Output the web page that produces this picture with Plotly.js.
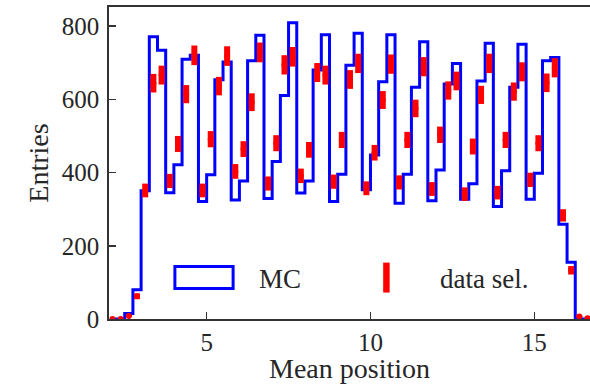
<!DOCTYPE html>
<html>
<head>
<meta charset="utf-8">
<script src="https://cdn.plot.ly/plotly-3.0.1.min.js"></script>
<style>html,body{margin:0;padding:0;background:#fff;}#chart{width:590px;height:384px;}</style>
</head>
<body>
<div id="chart"></div>
<script>
// Bin centres (bin width 0.25) of "Mean position"
const binCenters = [2.125, 2.375, 2.625, 2.875, 3.125, 3.375, 3.625, 3.875, 4.125, 4.375,
  4.625, 4.875, 5.125, 5.375, 5.625, 5.875, 6.125, 6.375, 6.625, 6.875,
  7.125, 7.375, 7.625, 7.875, 8.125, 8.375, 8.625, 8.875, 9.125, 9.375,
  9.625, 9.875, 10.125, 10.375, 10.625, 10.875, 11.125, 11.375, 11.625, 11.875,
  12.125, 12.375, 12.625, 12.875, 13.125, 13.375, 13.625, 13.875, 14.125, 14.375,
  14.625, 14.875, 15.125, 15.375, 15.625, 15.875, 16.125, 16.375, 16.625];

// MC histogram entries per bin
const mcEntries = [0, 0, 15, 80, 350, 771, 734, 345, 421, 709,
  720, 321, 394, 653, 702, 325, 377, 705, 775, 329,
  430, 610, 809, 344, 377, 680, 776, 321, 395, 693,
  780, 353, 448, 648, 776, 316, 395, 633, 757, 323,
  407, 642, 698, 327, 369, 650, 753, 307, 405, 633,
  750, 327, 398, 705, 714, 259, 155, 0, 0];

// Selected data entries per bin
const dataEntries = [0, 0, 8, 62, 351, 644, 666, 377, 478, 614,
  720, 351, 491, 636, 718, 403, 464, 592, 728, 370,
  480, 694, 716, 391, 462, 673, 666, 375, 489, 654,
  698, 357, 454, 598, 696, 373, 489, 575, 689, 355,
  503, 624, 650, 341, 471, 612, 698, 345, 489, 621,
  675, 380, 480, 645, 686, 283, 133, 7, 2];

const xTicks = [5, 10, 15];
const yTicks = [0, 200, 400, 600, 800];
const legendLabels = ["MC", "data sel."];

const textColor = "#262626";
const axisColor = "#333333";
const serif = "Liberation Serif";

const traces = [
  {
    type: "scatter", mode: "lines", name: legendLabels[0],
    x: binCenters, y: mcEntries,
    line: {shape: "hvh", color: "#0000ff", width: 3},
    showlegend: false, hoverinfo: "skip"
  },
  {
    type: "scatter", mode: "markers", name: legendLabels[1],
    x: binCenters, y: dataEntries,
    marker: {color: "#ff0000", size: 6, symbol: "circle"},
    error_y: {type: "sqrt", visible: true, color: "#ff0000", thickness: 6, width: 0},
    showlegend: false, hoverinfo: "skip"
  }
];

const layout = {
  width: 590, height: 384,
  margin: {l: 109, r: 0, t: 7, b: 64.5},
  paper_bgcolor: "#ffffff", plot_bgcolor: "#ffffff",
  showlegend: false,
  font: {family: serif, color: textColor, size: 25},
  xaxis: {
    range: [2.02, 16.70],
    tickvals: xTicks, ticktext: xTicks.map(String),
    ticks: "inside", ticklen: 7, tickwidth: 1.5, tickcolor: axisColor,
    showline: true, linecolor: axisColor, linewidth: 1.8, mirror: true,
    showgrid: false, zeroline: false,
    tickfont: {family: serif, size: 25, color: textColor},
    title: {text: "Mean position", font: {family: serif, size: 28, color: textColor}, standoff: 8}
  },
  yaxis: {
    range: [0, 852],
    tickvals: yTicks, ticktext: yTicks.map(String),
    ticks: "inside", ticklen: 7, tickwidth: 1.5, tickcolor: axisColor,
    showline: true, linecolor: axisColor, linewidth: 1.8, mirror: false,
    showgrid: false, zeroline: false,
    ticklabelstandoff: 3,
    tickfont: {family: serif, size: 25, color: textColor},
    title: {text: "Entries", font: {family: serif, size: 28, color: textColor}, standoff: 5}
  },
  shapes: [
    {type: "rect", xref: "paper", yref: "paper", x0: 0.137, x1: 0.258, y0: 0.0976, y1: 0.168,
     line: {color: "#0000ff", width: 3}, fillcolor: "rgba(0,0,0,0)"},
    {type: "rect", xref: "paper", yref: "paper", x0: 0.5700, x1: 0.5835, y0: 0.0848, y1: 0.1808,
     line: {width: 0}, fillcolor: "#ff0000"}
  ],
  annotations: [
    {xref: "paper", yref: "paper", x: 0.3077, y: 0.1296, xanchor: "left", yanchor: "middle",
     text: legendLabels[0], showarrow: false, font: {family: serif, size: 27, color: textColor}},
    {xref: "paper", yref: "paper", x: 0.684, y: 0.1296, xanchor: "left", yanchor: "middle",
     text: legendLabels[1], showarrow: false, font: {family: serif, size: 27, color: textColor}}
  ]
};

Plotly.newPlot("chart", traces, layout, {staticPlot: true, displayModeBar: false});
</script>
</body>
</html>
